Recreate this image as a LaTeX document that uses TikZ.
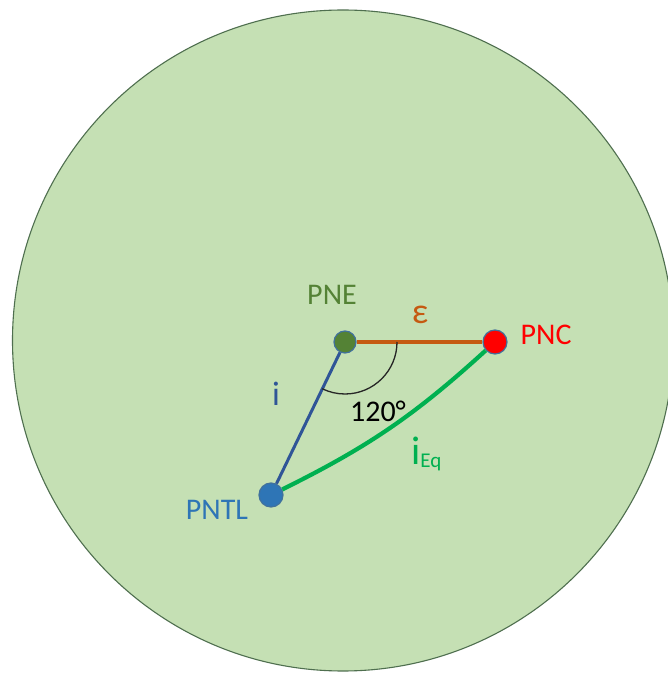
\documentclass[tikz,border=0pt]{standalone}
\usepackage{fontspec}
\setmainfont{Carlito}
\definecolor{bgfill}{HTML}{C5E0B4}
\definecolor{bgline}{HTML}{4F6F4F}
\definecolor{dotline}{HTML}{41719C}
\definecolor{pnegreen}{HTML}{548235}
\definecolor{pncred}{HTML}{FF0000}
\definecolor{pntlblue}{HTML}{2E75B6}
\definecolor{iblue}{HTML}{2F5597}
\definecolor{epsorange}{HTML}{C55A11}
\definecolor{eqgreen}{HTML}{00B050}
\begin{document}
\begin{tikzpicture}[x=1pt,y=1pt,
  dot/.style={circle,draw=dotline,line width=1.2pt,inner sep=0pt,minimum size=#1},
  lbl/.style={inner sep=0pt,font=\fontsize{30}{30}\selectfont}]
\fill[white] (0,0) rectangle (668,673);
\useasboundingbox (0,0) rectangle (668,673);
\node[circle,fill=bgfill,draw=bgline,line width=1.1pt,minimum size=661pt,inner sep=0pt] (area) at (343,332.5) {};
\node[dot=22pt,fill=pnegreen] (pne) at (345,331) {};
\node[dot=24pt,fill=pncred] (pnc) at (495,331) {};
\node[dot=24pt,fill=pntlblue] (pntl) at (271,178) {};
\draw[epsorange,line width=3.2pt] (pne) -- (pnc);
\draw[iblue,line width=3pt] (pne) -- (pntl);
\draw[eqgreen,line width=4.2pt] (pntl) to[bend right=8] (pnc);
\draw[black!85,line width=1.3pt] ([shift={(0:52)}]pne.center) arc[start angle=0,end angle=-116,radius=52];
\node[lbl,text=pnegreen] (tpne) at (332,378) {PNE};
\node[lbl,text=epsorange,font=\fontsize{36}{36}\selectfont] (teps) at (420,358) {ε};
\node[lbl,text=pncred,anchor=west] (tpnc) at (520.5,338) {PNC};
\node[lbl,text=iblue,font=\fontsize{34}{34}\selectfont] (ti) at (276,279) {i};
\node[lbl,text=black] (tang) at (378,262) {120°};
\node[lbl,text=pntlblue] (tpntl) at (217,163) {PNTL};
\node[lbl,text=eqgreen,anchor=base west,font=\fontsize{40}{40}\selectfont] (teq) at (411,208) {i\raisebox{-3pt}{\fontsize{21}{21}\selectfont Eq}};
\end{tikzpicture}
\end{document}
